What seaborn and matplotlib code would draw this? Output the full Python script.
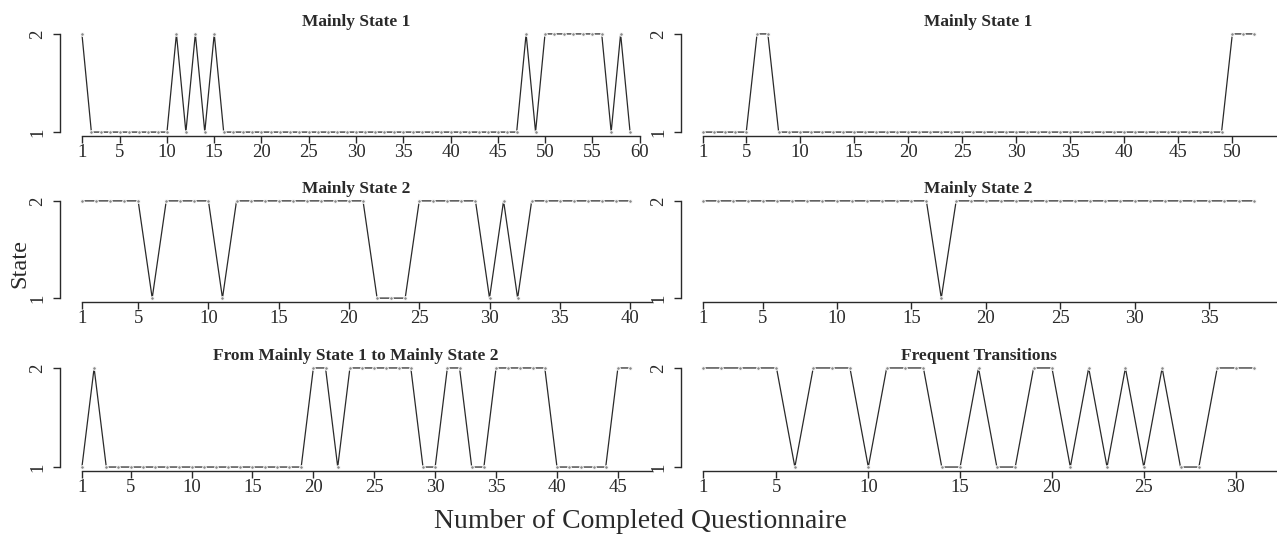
import numpy as np
import pandas as pd
import matplotlib
matplotlib.use("Agg")
import matplotlib.pyplot as plt
import seaborn as sns

# state sequences (questionnaire 1..n)
titles = ["Mainly State 1", "Mainly State 1",
          "Mainly State 2", "Mainly State 2",
          "From Mainly State 1 to Mainly State 2", "Frequent Transitions"]

state_a = [2, 1, 1, 1, 1, 1, 1, 1, 1, 1,
           2, 1, 2, 1, 2, 1, 1, 1, 1, 1,
           1, 1, 1, 1, 1, 1, 1, 1, 1, 1,
           1, 1, 1, 1, 1, 1, 1, 1, 1, 1,
           1, 1, 1, 1, 1, 1, 1, 2, 1, 2,
           2, 2, 2, 2, 2, 2, 1, 2, 1]

state_b = [1, 1, 1, 1, 1, 2, 2, 1, 1, 1,
           1, 1, 1, 1, 1, 1, 1, 1, 1, 1,
           1, 1, 1, 1, 1, 1, 1, 1, 1, 1,
           1, 1, 1, 1, 1, 1, 1, 1, 1, 1,
           1, 1, 1, 1, 1, 1, 1, 1, 1, 2,
           2, 2]

state_c = [2, 2, 2, 2, 2, 1, 2, 2, 2, 2,
           1, 2, 2, 2, 2, 2, 2, 2, 2, 2,
           2, 1, 1, 1, 2, 2, 2, 2, 2, 1,
           2, 1, 2, 2, 2, 2, 2, 2, 2, 2]

state_d = [2, 2, 2, 2, 2, 2, 2, 2, 2, 2,
           2, 2, 2, 2, 2, 2, 1, 2, 2, 2,
           2, 2, 2, 2, 2, 2, 2, 2, 2, 2,
           2, 2, 2, 2, 2, 2, 2, 2]

state_e = [1, 2, 1, 1, 1, 1, 1, 1, 1, 1,
           1, 1, 1, 1, 1, 1, 1, 1, 1, 2,
           2, 1, 2, 2, 2, 2, 2, 2, 1, 1,
           2, 2, 1, 1, 2, 2, 2, 2, 2, 1,
           1, 1, 1, 1, 2, 2]

state_f = [2, 2, 2, 2, 2, 1, 2, 2, 2, 1,
           2, 2, 2, 1, 1, 2, 1, 1, 2, 2,
           1, 2, 1, 2, 1, 2, 1, 1, 2, 2,
           2]

series = [state_a, state_b, state_c, state_d, state_e, state_f]
tick_candidates = [1, 5, 10, 15, 20, 25, 30, 35, 40, 45, 50, 55, 60]

sns.set_style("ticks")
plt.rcParams['font.family'] = ['Liberation Serif', 'DejaVu Serif']

W, H = 1277, 535
fig = plt.figure(figsize=(W / 100, H / 100), dpi=100)

# plot regions in pixels: (left, right), (top, bottom)
cols = [(60, 652), (681, 1276)]
rows = [(30, 136), (197, 302), (364, 471)]

ink = '#2a2a2a'
for i, (states, title) in enumerate(zip(series, titles)):
    r, c = divmod(i, 2)
    (x0, x1), (y0, y1) = cols[c], rows[r]
    ax = fig.add_axes([x0 / W, 1 - y1 / H, (x1 - x0) / W, (y1 - y0) / H])
    n = len(states)
    df = pd.DataFrame({'q': np.arange(1, n + 1), 'state': states})
    sns.lineplot(data=df, x='q', y='state', ax=ax, color=ink, linewidth=0.9,
                 marker='o', markersize=2.6, markerfacecolor='#8a8a8a',
                 markeredgecolor='white', markeredgewidth=0.7)
    pad = 0.04 * (n - 1)
    ax.set_xlim(1 - pad, n + pad)
    ax.set_ylim(0.96, 2.04)
    ticks = [t for t in tick_candidates if t <= n + pad]
    ax.set_xticks(ticks)
    ax.set_xticklabels([str(t) for t in ticks])
    ax.set_yticks([1, 2])
    ax.set_yticklabels(['1', '2'], rotation=90, va='center')
    for s in ['top', 'right']:
        ax.spines[s].set_visible(False)
    ax.spines['bottom'].set_bounds(1, min(60, n + pad))
    ax.spines['left'].set_bounds(1, 2)
    for s in ['bottom', 'left']:
        ax.spines[s].set_color(ink)
        ax.spines[s].set_linewidth(1.0)
    ax.tick_params(axis='both', direction='out', length=5, width=1.0,
                   colors=ink, labelsize=13.5)
    ax.tick_params(axis='x', pad=1)
    ax.tick_params(axis='y', pad=5)
    ax.set_xlabel('')
    ax.set_ylabel('')
    ax.set_title(title, fontsize=12.5, fontweight='bold', color=ink, pad=3)

fig.text(20 / W, 1 - 264 / H, 'State', rotation=90, ha='center', va='center',
         fontsize=17.5, color=ink)
fig.text(640 / W, 1 - 522 / H, 'Number of Completed Questionnaire',
         ha='center', va='center', fontsize=20, color=ink)

fig.savefig('out.png', dpi=100)
